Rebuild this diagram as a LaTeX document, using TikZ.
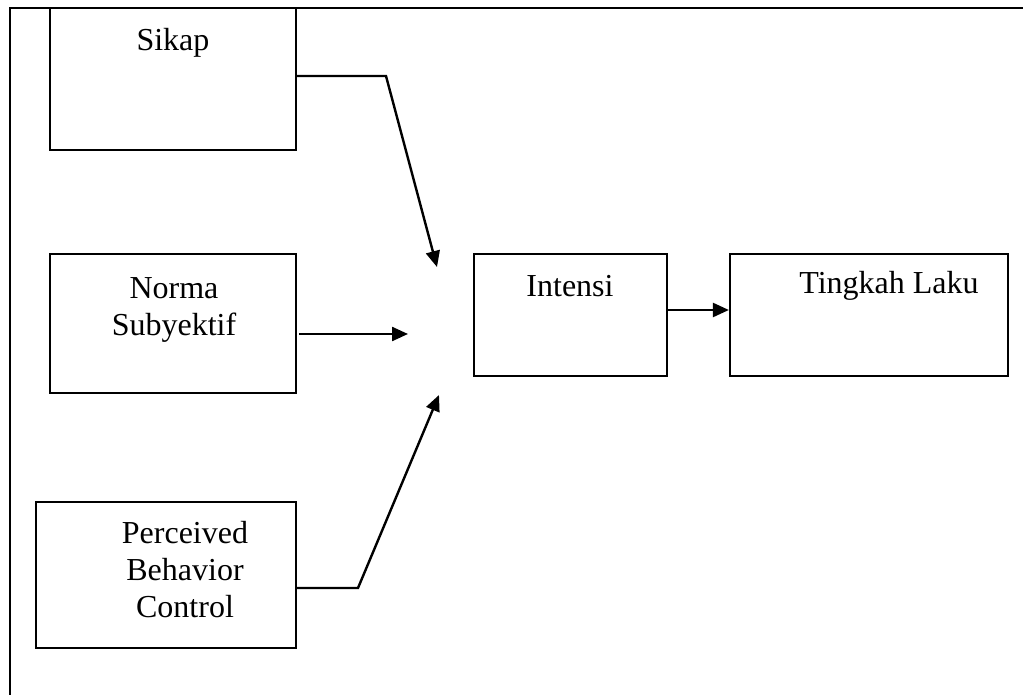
\documentclass[tikz,border=0pt]{standalone}
\usepackage{fontspec}
\setmainfont{Liberation Serif}
\usetikzlibrary{arrows.meta}
\begin{document}
\begin{tikzpicture}[x=0.5pt,y=-0.5pt,
  box/.style={draw, line width=1.1pt, minimum width=#1, inner sep=0pt},
  lbl/.style={font=\fontsize{16}{18.5}\selectfont, align=center, inner sep=0pt},
  conn/.style={line width=1.2pt, -{Triangle[length=8pt,width=7pt]}}]
\useasboundingbox (0,0) rectangle (1025,695);
\draw[line width=1.1pt] (10,695) -- (10,8) -- (1023,8);
% boxes
\node[box=123pt, minimum height=71pt] (sikap) at (173,79) {};
\node[box=123pt, minimum height=69.5pt] (norma) at (173,323.5) {};
\node[box=130pt, minimum height=73pt] (pbc) at (166,575) {};
\node[box=96.5pt, minimum height=61pt] (intensi) at (570.5,315) {};
\node[box=139pt, minimum height=61pt] (tingkah) at (869,315) {};
% labels
\node[lbl] (tsikap) at (173,43) {Sikap};
\node[lbl] (tnorma) at (174,310) {Norma\\Subyektif};
\node[lbl] (tpbc) at (185,570) {Perceived\\Behavior\\Control};
\node[lbl] (tintensi) at (570,286) {Intensi};
\node[lbl] (ttingkah) at (889,286) {Tingkah Laku};
% connector points
\coordinate (c1) at (386,76);
\coordinate (t1) at (437,267);
\coordinate (s2) at (299,334);
\coordinate (t2) at (408,334);
\coordinate (c3) at (358,588);
\coordinate (t3) at (439,395);
\draw[conn] (sikap.east |- c1) -- (c1) -- (t1);
\draw[conn] (s2) -- (t2);
\draw[conn] (pbc.east |- c3) -- (c3) -- (t3);
\draw[conn] (intensi.east |- 0,310) -- (tingkah.west |- 0,310);
\end{tikzpicture}
\end{document}
